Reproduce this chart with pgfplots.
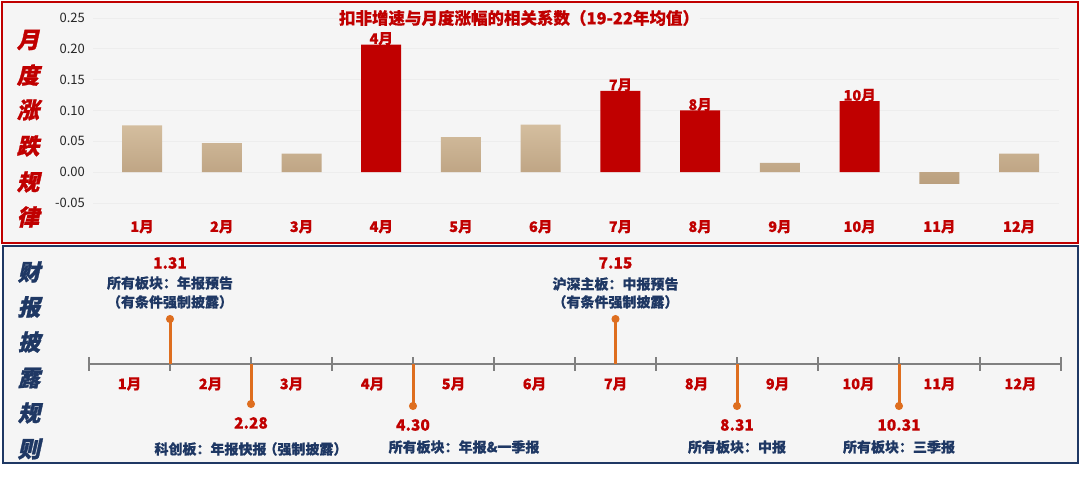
\documentclass[border=0pt]{standalone}
\usepackage{pgfplots}
\pgfplotsset{compat=1.18}
\usepackage{fontspec}
\setmainfont{Noto Sans CJK SC}
\newfontfamily\slfont[FakeSlant=0.22, FakeBold=1.2]{Noto Sans CJK SC}
\newfontfamily\hvfont[FakeBold=0.4]{Noto Sans CJK SC}

\definecolor{cred}{HTML}{C00000}
\definecolor{navy}{HTML}{1F3864}
\definecolor{panelbg}{HTML}{F5F5F5}
\definecolor{tanlight}{HTML}{D4BE9F}
\definecolor{tandark}{HTML}{BA9F7E}
\definecolor{stemc}{HTML}{DE6E1F}
\definecolor{linegray}{HTML}{808080}

\begin{document}
\begin{tikzpicture}
\path[use as bounding box] (0pt,0pt) rectangle (1080pt,480pt);
\fill[white] (0pt,0pt) rectangle (1080pt,480pt);

% panels
\filldraw[fill=panelbg, draw=cred, line width=2pt] (2pt,237pt) rectangle (1078pt,478pt);
\filldraw[fill=panelbg, draw=navy, line width=2.5pt] (3pt,17pt) rectangle (1078pt,234pt);

% side captions
\foreach \c/\y in {月/440, 度/405, 涨/370, 跌/334, 规/298, 律/263}
  \node[text=cred, font=\slfont\bfseries\fontsize{22.5}{22.5}\selectfont] at (28pt,\y pt) {\c};
\foreach \c/\y in {财/208, 报/173, 披/138, 露/102, 规/67, 则/31}
  \node[text=navy, font=\slfont\bfseries\fontsize{22.5}{22.5}\selectfont] at (29pt,\y pt) {\c};

% top panel: monthly correlation bars
\begin{axis}[
    at={(93pt,277pt)}, anchor=south west,
    width=966pt, height=185pt, scale only axis,
    xmin=0.385, xmax=12.5,
    ymin=-0.05, ymax=0.25,
    axis line style={draw=none},
    major tick length=0pt,
    xtick={1,...,12},
    xticklabels={1月,2月,3月,4月,5月,6月,7月,8月,9月,10月,11月,12月},
    xticklabel style={text=cred, font=\hvfont\bfseries\fontsize{14.5}{14.5}\selectfont, inner sep=0pt, yshift=-17pt},
    ytick={-0.05,0,0.05,0.10,0.15,0.20,0.25},
    yticklabels={-0.05,0.00,0.05,0.10,0.15,0.20,0.25},
    yticklabel style={text=black!85, font=\fontsize{13}{13}\selectfont, inner sep=0pt, xshift=-8pt},
    ymajorgrids, grid style={draw=black!7, line width=0.8pt},
    clip=false,
]
\addplot[ybar, bar width=40pt, bar shift=0pt, draw=none, top color=tanlight, bottom color=tandark]
  coordinates {(1,0.076) (2,0.047) (3,0.030) (5,0.057) (6,0.077) (9,0.015) (11,-0.019) (12,0.030)};
\addplot[ybar, bar width=40pt, bar shift=0pt, draw=none, fill=cred,
    nodes near coords, point meta=explicit symbolic,
    every node near coord/.append style={text=cred, anchor=south, inner sep=0pt, yshift=-1pt,
      font=\hvfont\bfseries\fontsize{14.5}{14.5}\selectfont}]
  coordinates {(4,0.207)[4月] (7,0.132)[7月] (8,0.100)[8月] (10,0.115)[10月]};
\end{axis}

% chart title, over the grid
\node[fill=panelbg, inner sep=1pt, text=cred, font=\hvfont\bfseries\fontsize{16.5}{16.5}\selectfont] at (519pt,462pt)
  {扣非增速与月度涨幅的相关系数（19-22年均值）};

% bottom panel: disclosure timeline
\begin{axis}[
    at={(89pt,17pt)}, anchor=south west,
    width=972pt, height=217pt, scale only axis,
    xmin=0, xmax=12, ymin=-99, ymax=118,
    hide axis, clip=false,
]
\addplot[linegray, line width=2pt] coordinates {(0,0) (12,0)};
\addplot[linegray, line width=2pt, ycomb] coordinates {(0,7)(1,7)(2,7)(3,7)(4,7)(5,7)(6,7)(7,7)(8,7)(9,7)(10,7)(11,7)(12,7)};
\addplot[linegray, line width=2pt, ycomb] coordinates {(0,-7)(1,-7)(2,-7)(3,-7)(4,-7)(5,-7)(6,-7)(7,-7)(8,-7)(9,-7)(10,-7)(11,-7)(12,-7)};
\addplot[stemc, line width=3pt, ycomb, mark=*, mark size=3.5pt, mark options={line width=1pt, fill=stemc}]
  coordinates {(1,45) (6.5,45) (2,-40) (4,-42) (8,-42) (10,-42)};

\pgfplotsinvokeforeach{1,...,12}{
  \node[text=cred, font=\hvfont\bfseries\fontsize{14.5}{14.5}\selectfont] at (axis cs:#1-0.5,-20) {#1月};
}

\tikzset{dlab/.style={text=cred, font=\hvfont\bfseries\fontsize{15.5}{15.5}\selectfont},
         dtxt/.style={text=navy, font=\hvfont\bfseries\fontsize{14}{14}\selectfont}}
\node[dlab] at (axis cs:1,101) {1.31};
\node[dtxt] at (axis cs:1,81) {所有板块：年报预告};
\node[dtxt] at (axis cs:1,62) {（有条件强制披露）};
\node[dlab] at (axis cs:2,-59) {2.28};
\node[dtxt, inner xsep=0pt] at (axis cs:2,-85) {科创板：年报快报\hspace{-3pt}（强制披露）};
\node[dlab] at (axis cs:4,-61) {4.30};
\node[dtxt] at (axis cs:4.63,-83) {所有板块：年报\&一季报};
\node[dlab] at (axis cs:6.5,101) {7.15};
\node[dtxt] at (axis cs:6.5,80) {沪深主板：中报预告};
\node[dtxt] at (axis cs:6.5,62) {（有条件强制披露）};
\node[dlab] at (axis cs:8,-61) {8.31};
\node[dtxt] at (axis cs:8,-83) {所有板块：中报};
\node[dlab] at (axis cs:10,-61) {10.31};
\node[dtxt] at (axis cs:10,-83) {所有板块：三季报};
\end{axis}
\end{tikzpicture}
\end{document}
